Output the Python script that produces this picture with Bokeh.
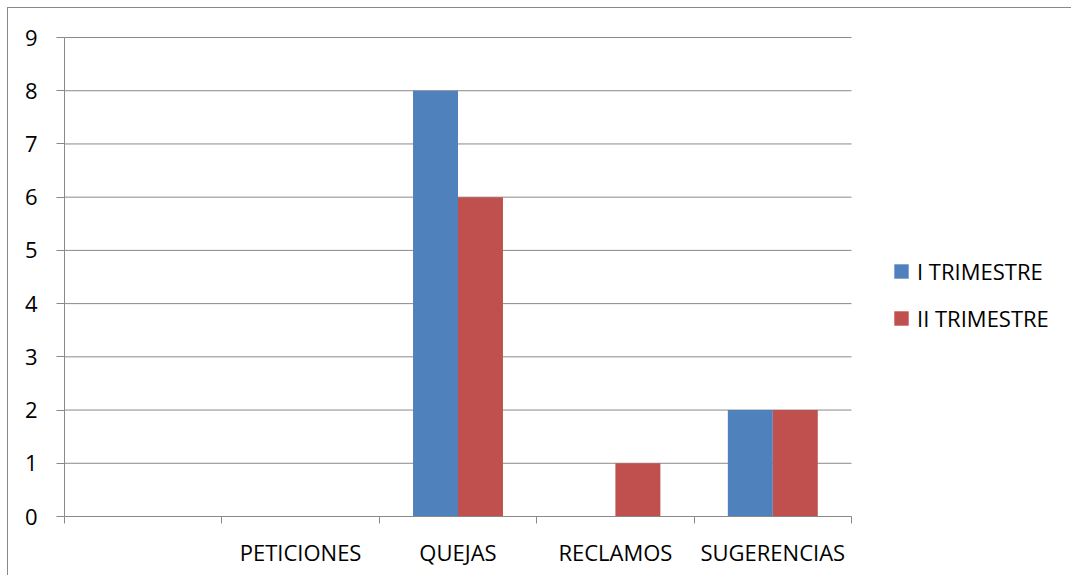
from bokeh.plotting import figure
from bokeh.models import (Range1d, LinearAxis, FixedTicker, Legend, LegendItem,
                          ColumnDataSource)
from bokeh.embed import file_html
from bokeh.resources import INLINE

categories = ["", "PETICIONES", "QUEJAS", "RECLAMOS", "SUGERENCIAS"]
series_names = ["I TRIMESTRE", "II TRIMESTRE"]
trim1 = [0, 0, 8, 0, 2]
trim2 = [0, 0, 6, 1, 2]
y_ticks = list(range(0, 10))

colors = ["#4F81BD", "#C0504D"]
FONT = "Open Sans"
FS = "22px"
GRAY = "#898989"

n = len(categories)
y_max = 9
bw = 1 / 3.5  # Excel gap width 150%

# layout in pixels
W, H = 1064, 568
left, bottom = 56, 60
plot_w = 787            # width of the category area
frame_w = W - left      # frame extends under the legend area
px_per_unit = 479 / y_max
extra_top = 10
frame_h = 479 + extra_top
top = H - bottom - frame_h

x_end = n * frame_w / plot_w
y_end = y_max + extra_top / px_per_unit

p = figure(width=W, height=H, output_backend="svg", toolbar_location=None,
           x_range=Range1d(0, x_end), y_range=Range1d(0, y_end),
           x_axis_type=None, y_axis_type=None,
           min_border_left=left, min_border_top=top, min_border_right=0,
           min_border_bottom=bottom, outline_line_color=None,
           background_fill_color="white", border_fill_color="white")
p.styles = {"border-left": f"1px solid {GRAY}", "border-top": f"1px solid {GRAY}",
            "margin-left": "7px", "margin-top": "7px"}
p.xgrid.visible = False
p.ygrid.visible = False

# y axis
yax = LinearAxis(ticker=FixedTicker(ticks=y_ticks, minor_ticks=[]), bounds=(0, y_max))
yax.axis_line_color = GRAY
yax.major_tick_line_color = GRAY
yax.major_tick_out = 8
yax.major_tick_in = 0
yax.minor_tick_out = 0
yax.major_label_standoff = 19
yax.major_label_text_font = FONT
yax.major_label_text_font_size = FS
yax.major_label_text_color = "black"
p.add_layout(yax, "left")

# x axis: boundary ticks
xax = LinearAxis(ticker=FixedTicker(ticks=list(range(0, n + 1)), minor_ticks=[]),
                 bounds=(0, n))
xax.axis_line_color = GRAY
xax.major_tick_line_color = GRAY
xax.major_tick_out = 7
xax.major_tick_in = 0
xax.minor_tick_out = 0
xax.major_label_text_font_size = "0px"
xax.major_label_standoff = 0
xax.major_label_overrides = {i: "" for i in range(0, n + 1)}
p.add_layout(xax, "below")

# x axis: category labels
centers = [i + 0.5 for i in range(n)]
lax = LinearAxis(ticker=FixedTicker(ticks=centers, minor_ticks=[]), bounds=(0, n))
lax.axis_line_color = None
lax.major_tick_line_color = None
lax.major_tick_out = 0
lax.major_tick_in = 0
lax.minor_tick_out = 0
lax.major_label_standoff = 13
lax.major_label_text_font = FONT
lax.major_label_text_font_size = FS
lax.major_label_text_color = "black"
lax.major_label_overrides = {c: categories[i] for i, c in enumerate(centers)}
p.add_layout(lax, "below")

# horizontal gridlines over the category area only
gl = [t for t in y_ticks if t > 0]
p.segment(x0=[0] * len(gl), x1=[n] * len(gl), y0=gl, y1=gl,
          line_color=GRAY, line_width=1, level="underlay")

src = ColumnDataSource(dict(
    x1=[c - bw / 2 for c in centers],
    x2=[c + bw / 2 for c in centers],
    t1=trim1, t2=trim2))
r1 = p.vbar(x="x1", top="t1", bottom=0, width=bw, source=src,
            fill_color=colors[0], line_color=None)
r2 = p.vbar(x="x2", top="t2", bottom=0, width=bw, source=src,
            fill_color=colors[1], line_color=None)

legend = Legend(items=[LegendItem(label=series_names[0], renderers=[r1]),
                       LegendItem(label=series_names[1], renderers=[r2])],
                location=(plot_w + 41, 183), orientation="vertical",
                glyph_width=18, glyph_height=18, label_standoff=7,
                label_height=20, spacing=17, padding=0, margin=0,
                border_line_color=None, background_fill_color=None,
                label_text_font=FONT, label_text_font_size=FS,
                label_text_color="black")
p.add_layout(legend, "center")

open("out.html", "w").write(file_html(p, INLINE))
